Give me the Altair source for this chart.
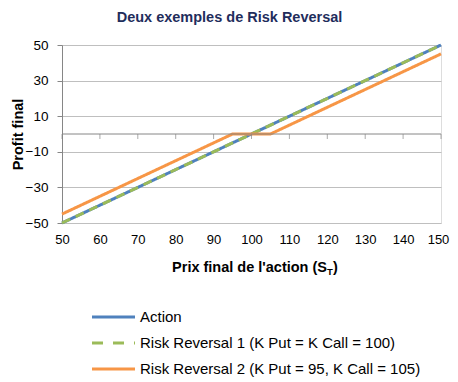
import altair as alt
import pandas as pd

# Data
x_vals = [50, 95, 100, 105, 150]
action = [-50, -5, 0, 5, 50]
rr1 = [-50, -5, 0, 5, 50]
rr2 = [-45, 0, 0, 0, 45]
series_names = [
    "Action",
    "Risk Reversal 1 (K Put = K Call = 100)",
    "Risk Reversal 2 (K Put = 95, K Call = 105)",
]
series_colors = ["#4F81BD", "#9BBB59", "#F79646"]
series_dash = [[1, 0], [9, 6], [1, 0]]
x_ticks = [50, 60, 70, 80, 90, 100, 110, 120, 130, 140, 150]
y_ticks = [-50, -30, -10, 10, 30, 50]

rows = []
for i, (name, ys) in enumerate(zip(series_names, [action, rr1, rr2])):
    for xv, yv in zip(x_vals, ys):
        rows.append({"x": xv, "y": yv, "serie": name, "order": i})
df = pd.DataFrame(rows)

FONT = "Liberation Sans"
W, H = 379, 178

xscale = alt.Scale(domain=[50, 150], nice=False, zero=False)
yscale = alt.Scale(domain=[-50, 50], nice=False, zero=False)

lines = alt.Chart(df).mark_line(strokeWidth=3, strokeCap="butt").encode(
    x=alt.X("x:Q", scale=xscale,
            axis=alt.Axis(values=x_ticks, domain=False, ticks=False, grid=False,
                          labelFontSize=13, labelFont=FONT, labelColor="#000000",
                          labelPadding=10, tickSize=0, labelOverlap=False,
                          labelFlush=False, title=None,
                          labelOffset={"condition": {"test": "datum.value == 150",
                                                     "value": -3},
                                       "value": 0})),
    y=alt.Y("y:Q", scale=yscale,
            axis=alt.Axis(values=y_ticks, grid=True, gridColor="#BFBFBF",
                          domainColor="#868686", tickColor="#868686", tickSize=5,
                          labelFontSize=13.5, labelFont=FONT, labelColor="#000000",
                          labelPadding=9, labelOverlap=False, labelFlush=False,
                          title="Profit final", titleFont=FONT,
                          titleFontSize=14.5, titleFontWeight="bold",
                          titleColor="#000000", titleX=-44, titleY=89,
                          titleAngle=270, titleAlign="center",
                          titleBaseline="middle")),
    color=alt.Color("serie:N", scale=alt.Scale(domain=series_names, range=series_colors),
                    legend=None),
    strokeDash=alt.StrokeDash("serie:N",
                              scale=alt.Scale(domain=series_names, range=series_dash),
                              legend=None),
    order=alt.Order("order:Q"),
    detail="serie:N",
)

zero_df = pd.DataFrame({"y": [0]})
zero = alt.Chart(zero_df).mark_rule(color="#868686", strokeWidth=1).encode(
    y=alt.Y("y:Q", scale=yscale, axis=None)
)
tick_df = pd.DataFrame({"x": x_ticks, "y": [0] * len(x_ticks)})
ticks = alt.Chart(tick_df).mark_tick(color="#868686", orient="vertical", size=5,
                                     thickness=1, yOffset=2.5).encode(
    x=alt.X("x:Q", scale=xscale, axis=None),
    y=alt.Y("y:Q", scale=yscale, axis=None),
)

# x-axis title with subscript T
def txt(text, x, y, size, align="left"):
    return alt.Chart(zero_df).mark_text(text=text, align=align, baseline="middle",
                                        font=FONT, fontSize=size, fontWeight="bold",
                                        color="#000000").encode(
        x=alt.value(x), y=alt.value(y))

t_main = txt("Prix final de l'action (S", 265, 223, 14.5, "right")
t_sub = txt("T", 265, 227, 9.5)
t_par = txt(")", 271, 223, 14.5)

# manual legend
legend_layers = []
leg_y = [272, 298, 324]
leg_dash = [[1, 0], [11, 10], [1, 0]]
for name, col, dash, ly in zip(series_names, series_colors, leg_dash, leg_y):
    legend_layers.append(
        alt.Chart(zero_df).mark_rule(color=col, strokeWidth=3, strokeDash=dash,
                                     strokeCap="butt").encode(
            x=alt.value(30), x2=alt.value(73), y=alt.value(ly))
    )
    legend_layers.append(
        alt.Chart(zero_df).mark_text(text=name, align="left", baseline="middle",
                                     font=FONT, fontSize=15, color="#000000").encode(
            x=alt.value(78), y=alt.value(ly))
    )

chart = alt.layer(lines, zero, ticks, t_main, t_sub, t_par, *legend_layers).resolve_axis(
    x="independent", y="independent"
).properties(
    width=W, height=H,
    autosize=alt.AutoSizeParams(type="none"),
    padding={"left": 54, "top": 37, "right": 9, "bottom": 157},
    title=alt.TitleParams("Deux exemples de Risk Reversal", font=FONT, fontSize=14.5,
                          fontWeight="bold", color="#1F2D5C", anchor="middle",
                          dx=-22, offset=13),
).configure_view(stroke=None).configure(background="white")

chart.save("out.html", embed_options={"renderer": "svg", "actions": False})
